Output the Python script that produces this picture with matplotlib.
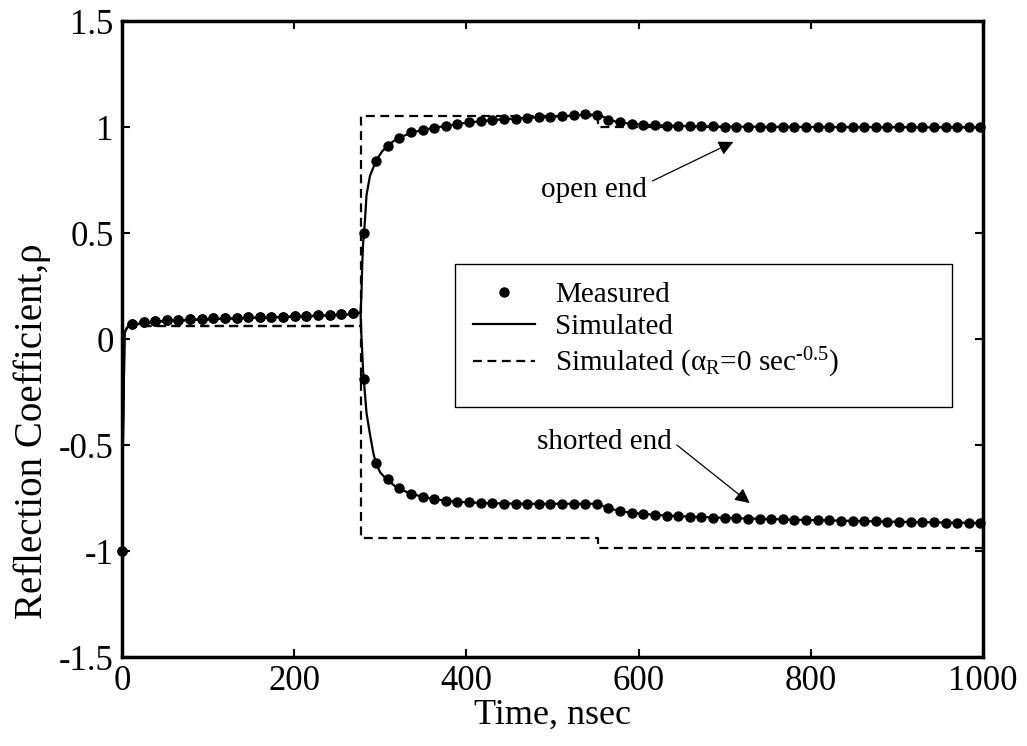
import numpy as np
import matplotlib
matplotlib.use("Agg")
import matplotlib.pyplot as plt
from matplotlib.patches import Rectangle

plt.rcParams["font.family"] = ["Liberation Serif", "DejaVu Serif"]
plt.rcParams["mathtext.fontset"] = "custom"
plt.rcParams["mathtext.rm"] = "Liberation Serif"
plt.rcParams["mathtext.it"] = "Liberation Serif:italic"

# measured reflection coefficient, sampled every ~13.5 ns
t_meas = [0, 11.5, 25, 38.5, 52, 65.5, 79, 92.5, 106, 119.5, 133,
          146.5, 160, 173.5, 187, 200.5, 214, 227.5, 241, 254.5, 268,
          281.5, 295, 308.5, 322, 335.5, 349, 362.5, 376, 389.5, 403,
          416.5, 430, 443.5, 457, 470.5, 484, 497.5, 511, 524.5, 538,
          551.5, 565, 578.5, 592, 605.5, 619, 632.5, 646, 659.5, 673,
          686.5, 700, 713.5, 727, 740.5, 754, 767.5, 781, 794.5, 808,
          821.5, 835, 848.5, 862, 875.5, 889, 902.5, 916, 929.5, 943,
          956.5, 970, 983.5, 997]

rho_before = [-1.0, 0.070, 0.082, 0.086, 0.089, 0.091, 0.093, 0.095, 0.097,
              0.099, 0.100, 0.102, 0.103, 0.105, 0.106, 0.108, 0.109, 0.111,
              0.113, 0.117, 0.124]

rho_open_meas = rho_before + [
    0.50, 0.84, 0.91, 0.95, 0.975, 0.986, 0.997, 1.006, 1.014, 1.022,
    1.028, 1.033, 1.036, 1.039, 1.042, 1.046, 1.049, 1.051, 1.055, 1.060,
    1.058, 1.035, 1.022, 1.016, 1.011, 1.008, 1.006, 1.005, 1.004, 1.003,
    1.003, 1.002, 1.002, 1.001, 1.001, 1.001, 1.000, 1.000, 1.000, 1.000,
    0.999, 0.999, 0.999, 0.999, 0.999, 0.998, 0.998, 0.998, 0.998, 0.998,
    0.998, 0.998, 0.998, 0.998]

rho_short_meas = rho_before + [
    -0.19, -0.587, -0.66, -0.705, -0.729, -0.744, -0.755, -0.764, -0.767, -0.771,
    -0.773, -0.775, -0.776, -0.776, -0.777, -0.777, -0.777, -0.777, -0.777, -0.776,
    -0.778, -0.798, -0.812, -0.820, -0.826, -0.830, -0.833, -0.836, -0.838, -0.840,
    -0.842, -0.844, -0.846, -0.847, -0.849, -0.850, -0.851, -0.853, -0.854, -0.855,
    -0.856, -0.857, -0.858, -0.859, -0.860, -0.861, -0.862, -0.863, -0.864, -0.865,
    -0.866, -0.867, -0.867, -0.868]

# simulated curves (with skin-effect loss)
t_sim_pre = [0, 1, 3, 6, 12, 40, 80, 120, 160, 200, 240, 270, 277]
rho_sim_pre = [-1.0, -0.5, 0.03, 0.055, 0.068, 0.082, 0.090, 0.096, 0.101,
               0.106, 0.111, 0.118, 0.125]

t_sim_open = [278, 279, 280, 282, 284, 288, 295, 302, 310, 320, 335, 350,
              375, 400, 430, 460, 490, 520, 540, 553, 558, 565, 575, 590,
              610, 650, 700, 800, 900, 1000]
rho_sim_open = [0.2, 0.35, 0.45, 0.55, 0.68, 0.77, 0.84, 0.885, 0.918, 0.946,
                0.972, 0.987, 1.005, 1.020, 1.033, 1.041, 1.047, 1.053, 1.058,
                1.060, 1.050, 1.035, 1.024, 1.016, 1.010, 1.005, 1.002, 1.000,
                0.999, 0.998]

t_sim_short = [278, 280, 282, 284, 288, 292, 295, 300, 308, 320, 335, 350,
               375, 400, 430, 470, 520, 553, 560, 567, 578, 592, 620, 660,
               720, 800, 900, 1000]
rho_sim_short = [0.02, -0.15, -0.25, -0.35, -0.45, -0.54, -0.587, -0.63, -0.665,
                 -0.703, -0.729, -0.745, -0.763, -0.770, -0.775, -0.777, -0.777,
                 -0.777, -0.790, -0.800, -0.812, -0.820, -0.830, -0.838, -0.846,
                 -0.854, -0.862, -0.868]

# lossless case (alpha_R = 0): piecewise constant levels
t_step = [0, 0, 277, 553, 1000]
rho_step_open = [-1.0, 0.06, 1.053, 1.0, 1.0]
rho_step_short = [-1.0, 0.06, -0.94, -0.985, -0.985]

fig = plt.figure(figsize=(10.27, 7.46), dpi=100)
ax = fig.add_axes([0.1188, 0.1193, 0.8384, 0.8525])

lw = 1.6
dash = (0, (4, 2.5))
ax.plot(t_step, rho_step_open, color="black", lw=lw, ls=dash,
        drawstyle="steps-post")
ax.plot(t_step, rho_step_short, color="black", lw=lw, ls=dash,
        drawstyle="steps-post")

ax.plot(t_sim_pre + t_sim_open, rho_sim_pre + rho_sim_open, color="black", lw=lw)
ax.plot(t_sim_pre + t_sim_short, rho_sim_pre + rho_sim_short, color="black", lw=lw)

ax.plot(t_meas, rho_open_meas, "o", color="black", ms=6.5, clip_on=False)
ax.plot(t_meas, rho_short_meas, "o", color="black", ms=6.5, clip_on=False)

# legend box drawn as a plain rectangle, entries on top without frame
ax.add_patch(Rectangle((0.387, 0.393), 0.577, 0.225, transform=ax.transAxes,
                       facecolor="white", edgecolor="black", lw=1.0, zorder=4))
h_meas, = ax.plot([], [], "o", color="black", ms=6.5)
h_sim, = ax.plot([], [], color="black", lw=lw)
h_step, = ax.plot([], [], color="black", lw=lw, ls=dash)
leg = ax.legend([h_meas, h_sim, h_step],
                ["Measured", "Simulated",
                 r"Simulated (α$_{\mathrm{R}}$=0 sec$^{\text{-0.5}}$)"],
                loc="upper left", bbox_to_anchor=(0.387, 0.618),
                fontsize=21, frameon=False, borderpad=0.62,
                labelspacing=0.19, handlelength=2.1, handletextpad=0.7,
                borderaxespad=0)
leg.set_zorder(5)

# labels for the two terminations
arrow = dict(arrowstyle="-|>", color="black", lw=0.9, mutation_scale=22,
             shrinkA=2, shrinkB=0)
ax.annotate("open end", xy=(710, 0.93), xytext=(487, 0.67), fontsize=21,
            ha="left", va="baseline",
            arrowprops=dict(arrow, relpos=(1.0, 0.75)))
ax.annotate("shorted end", xy=(729, -0.774), xytext=(482, -0.52), fontsize=21,
            ha="left", va="baseline",
            arrowprops=dict(arrow, relpos=(1.0, 0.55)))

ax.set_xlim(0, 1000)
ax.set_ylim(-1.5, 1.5)
ax.set_xticks([0, 200, 400, 600, 800, 1000])
ax.set_yticks([-1.5, -1, -0.5, 0, 0.5, 1, 1.5])
ax.set_yticklabels(["-1.5", "-1", "-0.5", "0", "0.5", "1", "1.5"])
ax.tick_params(direction="in", length=6, width=1.5, labelsize=25,
               top=True, right=True, pad=6)

for sp in ax.spines.values():
    sp.set_linewidth(2.5)

ax.set_xlabel("Time, nsec", fontsize=26, labelpad=0)
ax.set_ylabel("Reflection Coefficient,ρ", fontsize=28)
ax.yaxis.set_label_coords(-0.083, 0.355)

fig.savefig("out.png", dpi=100)
